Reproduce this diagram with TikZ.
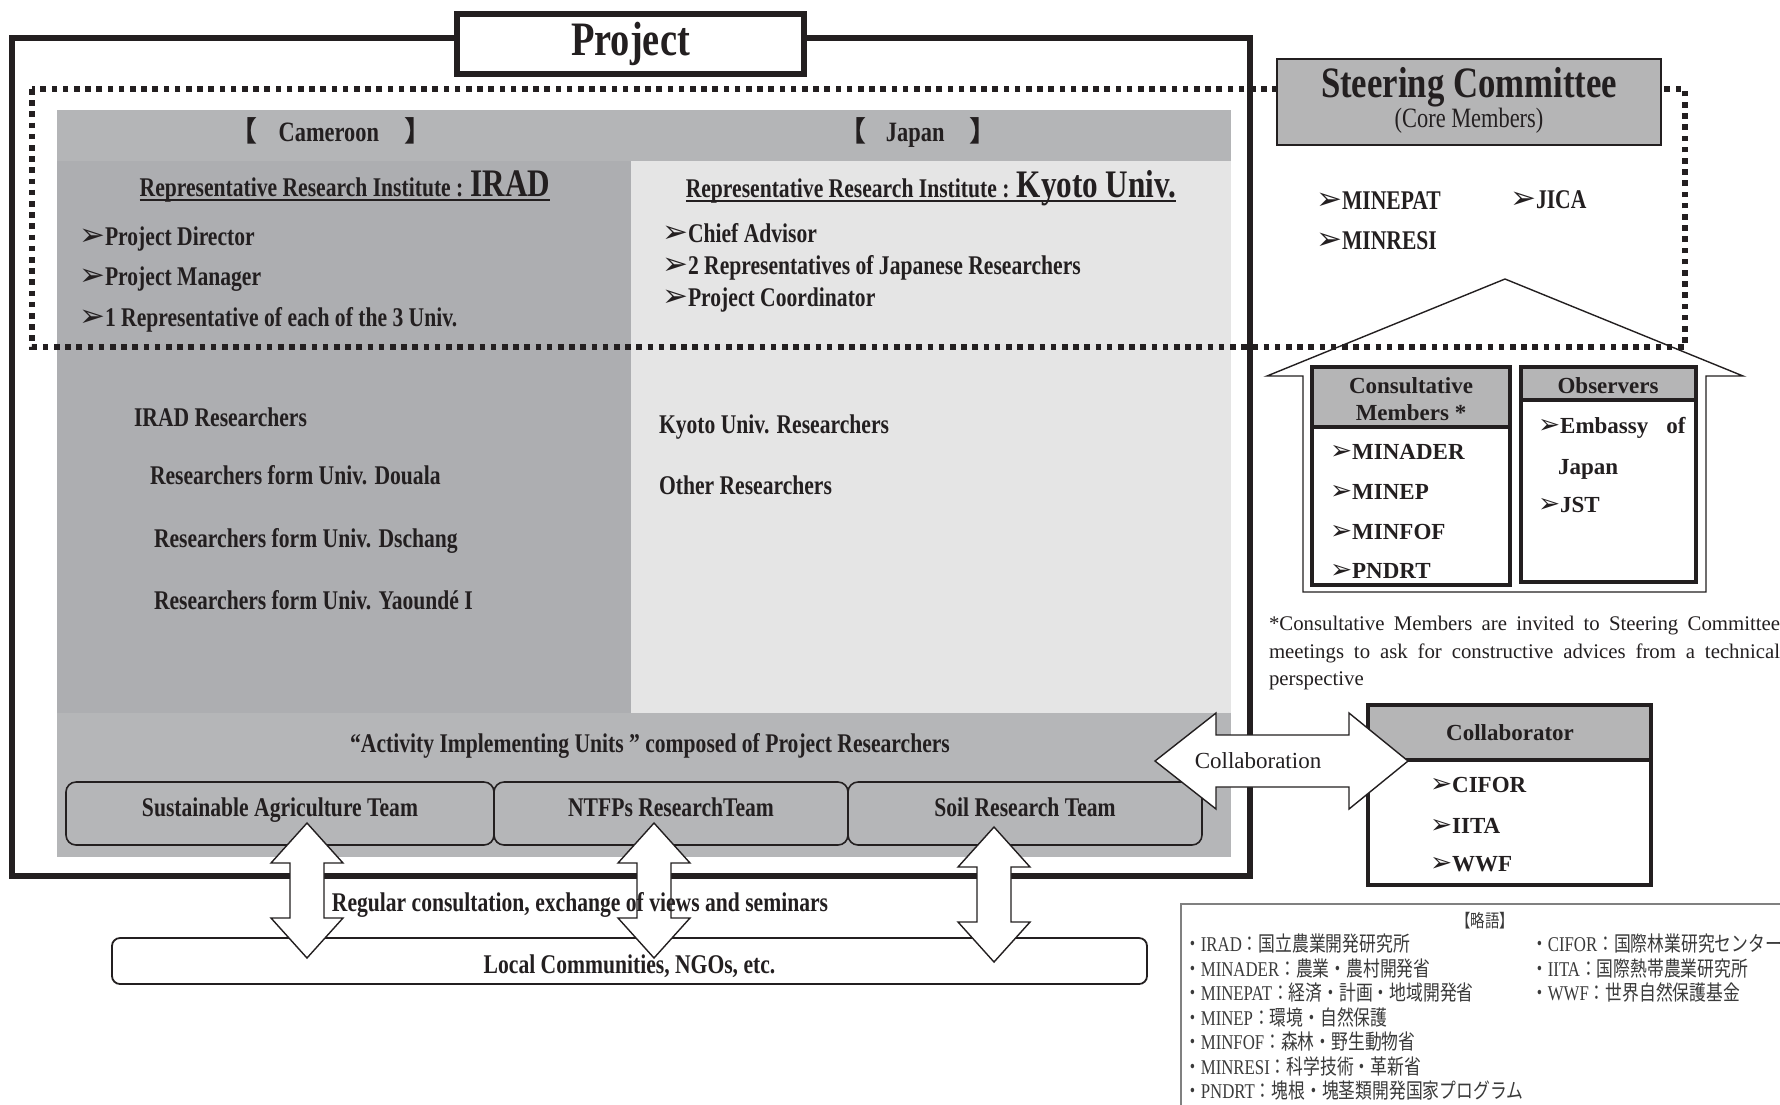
\documentclass[tikz,border=0pt]{standalone}
\usepackage{fontspec}
\setmainfont{Liberation Serif}
\newfontfamily\condf{Liberation Serif}[FakeStretch=0.8]
\newfontfamily\symf{DejaVu Sans}
\newfontfamily\cjk{Noto Sans CJK JP}
\newfontfamily\cjkc{Noto Sans CJK JP}[FakeStretch=0.8]
\newcommand\bul{\scalebox{1.15}{\symf\bfseries ➢}}
\newcommand\lgl[2]{{\cjkc ・}#1{\cjkc ：#2}}
\definecolor{ink}{HTML}{231F20}
\definecolor{hdrc}{HTML}{B4B5B7}
\definecolor{leftc}{HTML}{ADAEB1}
\definecolor{rightc}{HTML}{E5E5E5}
\definecolor{botc}{HTML}{B5B6B8}
\definecolor{boxg}{HTML}{B5B5B6}
\definecolor{lgink}{HTML}{3A3A3A}
\tikzset{
  t/.style={inner sep=0pt, outer sep=0pt, text=ink},
  cb/.style={t, font=\condf\bfseries\fontsize{13.5}{16}\selectfont},
  cb14/.style={t, font=\condf\bfseries\fontsize{14}{16}\selectfont},
  nb/.style={t, font=\bfseries\fontsize{11.5}{14}\selectfont},
  lg/.style={t, text=lgink, font=\condf\fontsize{10.5}{13}\selectfont},
  dotline/.style={line width=2.8pt, dash pattern=on 2.8pt off 2.8pt},
  teambox/.style={draw=ink, line width=0.8pt, fill=botc, rounded corners=5pt,
    minimum height=31.5pt, inner sep=0pt, text=ink, text height=9pt, text depth=5.6pt,
    font=\condf\bfseries\fontsize{13.5}{16}\selectfont},
  arr/.style={draw=ink, line width=0.7pt, fill=white},
  hbox/.style={draw=ink, line width=1.6pt},
}
\newcommand\varrow[3]{%
  \draw[arr] (#1,#2) -- (#1+36,#2+40) -- (#1+17,#2+40) -- (#1+17,#3-40) -- (#1+36,#3-40)
    -- (#1,#3) -- (#1-36,#3-40) -- (#1-17,#3-40) -- (#1-17,#2+40) -- (#1-36,#2+40) -- cycle;}
\begin{document}
\begin{tikzpicture}[x=0.5pt,y=-0.5pt]
\useasboundingbox (0,0) rectangle (1780,1104);
\clip (0,0) rectangle (1780,1104);
\fill[white] (0,0) rectangle (1780,1104);

% gray panels
\fill[hdrc] (57,110) rectangle (1231,161);
\fill[leftc] (57,161) rectangle (631,713);
\fill[rightc] (631,161) rectangle (1231,713);
\fill[botc] (57,713) rectangle (1231,857);

% house
\draw[line width=0.7pt, draw=ink, fill=white] (1505,279) -- (1743,376) -- (1706,376) -- (1706,592)
  -- (1303,592) -- (1303,376) -- (1267,376) -- cycle;

% dotted region
\draw[dotline, ink] (32,89) rectangle (1685,347);

% project frame
\draw[line width=3.2pt, ink] (12,38) rectangle (1250,876);
\node[draw=ink, line width=3pt, fill=white, minimum width=173.5pt, minimum height=30pt,
  inner sep=0pt, text=ink, font=\condf\bfseries\fontsize{24}{28}\selectfont] (title) at (630.5,44) {Project};

% headers
\node[cb14, anchor=base] (cam) at (331,141) {{\cjk\bfseries 【}\hspace{0.75em}Cameroon\hspace{0.9em}{\cjk\bfseries 】}};
\node[cb14, anchor=base] (jap) at (918,141) {{\cjk\bfseries 【}\hspace{0.7em}Japan\hspace{0.9em}{\cjk\bfseries 】}};

\node[cb, anchor=base] (rri) at (345,196) {Representative Research Institute : {\fontsize{19.5}{22}\selectfont IRAD}};
\draw[ink, line width=1.1pt] ([yshift=-2pt]rri.base west) -- ([yshift=-2pt]rri.base east);
\node[cb, anchor=base] (rrk) at (931,197) {Representative Research Institute : {\fontsize{19.5}{22}\selectfont Kyoto Univ.}};
\draw[ink, line width=1.1pt] ([yshift=-2pt]rrk.base west) -- ([yshift=-2pt]rrk.base east);

\node[cb, anchor=base west] (pd) at (79,245) {\bul Project Director};
\node[cb, anchor=base west] (pm) at (79,285) {\bul Project Manager};
\node[cb, anchor=base west] (r3) at (79,326) {\bul 1 Representative of each of the 3 Univ.};
\node[cb, anchor=base west] (ca) at (662,242) {\bul Chief Advisor};
\node[cb, anchor=base west] (jr) at (662,274) {\bul 2 Representatives of Japanese Researchers};
\node[cb, anchor=base west] (pc) at (662,306) {\bul Project Coordinator};

\node[cb, anchor=base west] (iradr) at (134,426) {IRAD Researchers};
\node[cb, anchor=base west] (doua) at (150,484) {Researchers form Univ. Douala};
\node[cb, anchor=base west] (dsch) at (154,547) {Researchers form Univ. Dschang};
\node[cb, anchor=base west] (yaou) at (154,609) {Researchers form Univ. Yaoundé I};
\node[cb, anchor=base west] (kyr) at (659,433) {Kyoto Univ. Researchers};
\node[cb, anchor=base west] (oth) at (659,494) {Other Researchers};

% activity units
\node[cb, anchor=base] (act) at (650,752) {“Activity Implementing Units ” composed of Project Researchers};
\node[teambox, minimum width=214pt] (sat) at (280,813.5) {Sustainable Agriculture Team};
\node[teambox, minimum width=177pt] (ntfp) at (671,813.5) {NTFPs ResearchTeam};
\node[teambox, minimum width=177pt] (soil) at (1025,813.5) {Soil Research Team};

% local communities
\node[draw=ink, line width=0.9pt, fill=white, rounded corners=4pt, minimum width=517.5pt,
  minimum height=23pt, inner sep=0pt, text=ink, text height=12.9pt, text depth=0pt,
  font=\condf\bfseries\fontsize{13.5}{16}\selectfont] (loc) at (629.5,961) {Local Communities, NGOs, etc.};

% vertical double arrows
\varrow{307}{823}{958}
\varrow{654}{823}{958}
\varrow{994}{827}{962}
\node[cb, anchor=base] (reg) at (580,911) {Regular consultation, exchange of views and seminars};

% steering committee
\node[draw=ink, line width=1pt, fill=boxg, minimum width=192pt, minimum height=43pt, inner sep=0pt] (steer) at (1469,102) {};
\node[t, anchor=base, font=\condf\bfseries\fontsize{21.7}{24}\selectfont] (sct) at (1469,97) {Steering Committee};
\node[t, anchor=base, font=\condf\fontsize{14}{16}\selectfont] (scm) at (1469,127) {(Core Members)};
\node[cb, anchor=base west] (minepat) at (1316,209) {\bul MINEPAT};
\node[cb, anchor=base west] (minresi) at (1316,249) {\bul MINRESI};
\node[cb, anchor=base west] (jica) at (1510,208) {\bul JICA};

% consultative members
\fill[boxg] (1312,367) rectangle (1510,427);
\draw[hbox] (1312,367) rectangle (1510,585);
\draw[hbox] (1312,427) -- (1510,427);
\node[nb, anchor=base] (cm1) at (1411,393) {Consultative};
\node[nb, anchor=base] (cm2) at (1411,420) {Members *};
\node[nb, anchor=base west] (minader) at (1330,459) {\bul MINADER};
\node[nb, anchor=base west] (minep) at (1330,499) {\bul MINEP};
\node[nb, anchor=base west] (minfof) at (1330,539) {\bul MINFOF};
\node[nb, anchor=base west] (pndrt) at (1330,578) {\bul PNDRT};

% observers
\fill[boxg] (1521,367) rectangle (1696,400);
\draw[hbox] (1521,367) rectangle (1696,582);
\draw[hbox] (1521,400) -- (1696,400);
\node[nb, anchor=base] (obs) at (1608,393) {Observers};
\node[nb, anchor=base west] (emb) at (1538,433) {\bul Embassy\hspace{9pt}of};
\node[nb, anchor=base west] (embj) at (1558,474) {Japan};
\node[nb, anchor=base west] (jst) at (1538,512) {\bul JST};

% footnote
\node[t, anchor=north west, text width=255.5pt, align=justify, font=\fontsize{10.4}{13.8}\selectfont] (fn) at (1269,616)
  {*Consultative Members are invited to Steering Committee\linebreak meetings to ask for constructive advices from a technical\linebreak perspective};

% collaborator
\fill[boxg] (1368,705) rectangle (1651,760);
\draw[hbox] (1368,705) rectangle (1651,885);
\draw[hbox] (1368,760) -- (1651,760);
\node[nb, anchor=base] (colh) at (1510,740) {Collaborator};
\node[nb, anchor=base west] (cifor) at (1430,792) {\bul CIFOR};
\node[nb, anchor=base west] (iita) at (1430,833) {\bul IITA};
\node[nb, anchor=base west] (wwf) at (1430,871) {\bul WWF};

% collaboration arrow
\draw[arr] (1155,761) -- (1216,713) -- (1216,735) -- (1349,735) -- (1349,713) -- (1408,761)
  -- (1349,809) -- (1349,787) -- (1216,787) -- (1216,809) -- cycle;
\node[t, anchor=base, font=\fontsize{11.5}{14}\selectfont] (collab) at (1258,768) {Collaboration};

% legend
\draw[gray, line width=1pt] (1181,904) rectangle (1800,1120);
\node[t, text=lgink, anchor=base, font=\cjkc\fontsize{9}{12}\selectfont] (lgh) at (1485,927) {【略語】};
\node[lg, anchor=base west] (l1) at (1184,951.5) {\lgl{IRAD}{国立農業開発研究所}};
\node[lg, anchor=base west] (l2) at (1184,976) {\lgl{MINADER}{農業・農村開発省}};
\node[lg, anchor=base west] (l3) at (1184,1000.5) {\lgl{MINEPAT}{経済・計画・地域開発省}};
\node[lg, anchor=base west] (l4) at (1184,1025) {\lgl{MINEP}{環境・自然保護}};
\node[lg, anchor=base west] (l5) at (1184,1049.5) {\lgl{MINFOF}{森林・野生動物省}};
\node[lg, anchor=base west] (l6) at (1184,1074) {\lgl{MINRESI}{科学技術・革新省}};
\node[lg, anchor=base west] (l7) at (1184,1098.5) {\lgl{PNDRT}{塊根・塊茎類開発国家プログラム}};
\node[lg, anchor=base west] (r1) at (1531,951.5) {\lgl{CIFOR}{国際林業研究センター}};
\node[lg, anchor=base west] (r2) at (1531,976) {\lgl{IITA}{国際熱帯農業研究所}};
\node[lg, anchor=base west] (r3b) at (1531,1000.5) {\lgl{WWF}{世界自然保護基金}};
\end{tikzpicture}
\end{document}
